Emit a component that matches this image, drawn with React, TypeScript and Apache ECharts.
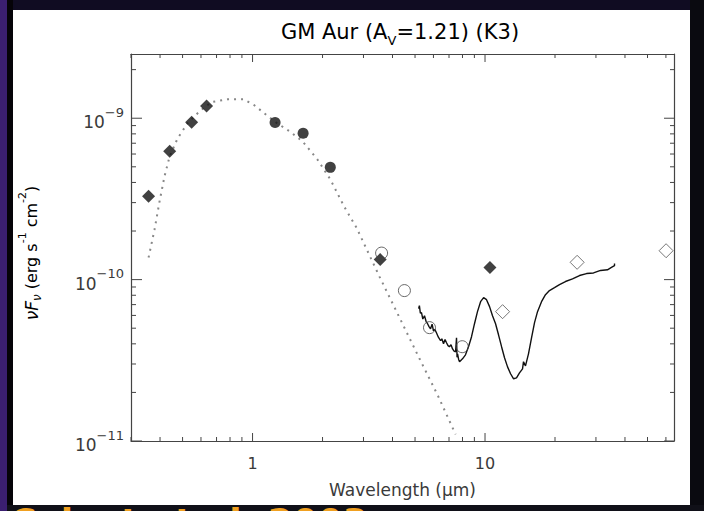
import React, { useEffect, useRef } from 'react';
import * as echarts from 'echarts';

// Photometry (wavelength in micron, nuFnu in erg s^-1 cm^-2)
const opticalDiamondsX = [0.357, 0.44, 0.547, 0.634];
const opticalDiamondsY = [3.28e-10, 6.24e-10, 9.45e-10, 1.19e-9];
const nirCirclesX = [1.25, 1.65, 2.16];
const nirCirclesY = [9.4e-10, 8.07e-10, 4.96e-10];
const midDiamondsX = [3.54, 10.5];
const midDiamondsY = [1.33e-10, 1.19e-10];
const iracX = [3.59, 4.5, 5.77, 7.98];
const iracY = [1.46e-10, 8.55e-11, 5.04e-11, 3.84e-11];
const irasX = [11.9, 24.9, 60.1];
const irasY = [6.33e-11, 1.28e-10, 1.51e-10];

// Stellar photosphere (dotted)
const photoX = [0.357, 0.379, 0.398, 0.418, 0.44, 0.476, 0.525, 0.592, 0.666, 0.781, 0.915, 1.02, 1.126, 1.256, 1.443, 1.64, 1.9, 2.16, 2.49, 2.8, 3.52, 4.29, 5.23, 6.25, 7.47];
const photoY = [1.37e-10, 2.05e-10, 3.05e-10, 4.36e-10, 5.81e-10, 7.5e-10, 9.3e-10, 1.105e-9, 1.26e-9, 1.31e-9, 1.31e-9, 1.2e-9, 1.07e-9, 9.45e-10, 8.3e-10, 7.2e-10, 5.56e-10, 4.18e-10, 2.8e-10, 2.1e-10, 1.04e-10, 5.8e-11, 3.23e-11, 1.93e-11, 1.1e-11];

// IRS spectrum (solid)
const irsX = [5.18, 5.22, 5.27, 5.33, 5.4, 5.49, 5.58, 5.66, 5.75, 5.83, 5.92, 6.0, 6.09, 6.18, 6.3, 6.44, 6.52, 6.63, 6.73, 6.83, 6.93, 7.03, 7.14, 7.25, 7.36, 7.47, 7.54, 7.58, 7.62, 7.7, 7.77, 8.0, 8.24, 8.49, 8.75, 9.01, 9.28, 9.57, 9.86, 10.15, 10.46, 10.77, 11.1, 11.43, 11.78, 12.13, 12.5, 12.88, 13.27, 13.66, 14.07, 14.5, 14.64, 14.93, 15.38, 15.85, 16.33, 16.82, 17.5, 18.2, 18.93, 19.9, 20.91, 22.18, 23.79, 25.49, 27.33, 29.29, 31.39, 33.63, 34.98, 36.06, 36.06];
const irsY = [6.61e-11, 6.9e-11, 6.2e-11, 6.24e-11, 5.7e-11, 5.97e-11, 5.5e-11, 5.33e-11, 5.1e-11, 4.96e-11, 5.3e-11, 4.82e-11, 4.9e-11, 4.69e-11, 4.4e-11, 4.18e-11, 4.3e-11, 4.0e-11, 4.25e-11, 4.06e-11, 3.9e-11, 3.84e-11, 3.95e-11, 3.72e-11, 3.6e-11, 3.57e-11, 4.36e-11, 3.3e-11, 3.47e-11, 3.2e-11, 3.1e-11, 3.23e-11, 3.42e-11, 3.84e-11, 4.43e-11, 5.33e-11, 6.33e-11, 7.3e-11, 7.73e-11, 7.51e-11, 6.8e-11, 5.97e-11, 5.33e-11, 4.55e-11, 3.84e-11, 3.28e-11, 2.88e-11, 2.61e-11, 2.43e-11, 2.46e-11, 2.64e-11, 2.8e-11, 3.1e-11, 2.92e-11, 3.47e-11, 4.36e-11, 5.41e-11, 6.33e-11, 7.3e-11, 8.07e-11, 8.55e-11, 8.91e-11, 9.31e-11, 9.73e-11, 1.01e-10, 1.06e-10, 1.09e-10, 1.1e-10, 1.14e-10, 1.15e-10, 1.19e-10, 1.22e-10, 1.26e-10];

// Axes
const xRange = [0.3, 65];
const yRange = [1e-11, 2.5e-9];
const xTicks = [0.3, 0.4, 0.5, 0.6, 0.7, 0.8, 0.9, 1, 2, 3, 4, 5, 6, 7, 8, 9, 10, 20, 30, 40, 50, 60];
const yTicks = [1e-11, 2e-11, 3e-11, 4e-11, 5e-11, 6e-11, 7e-11, 8e-11, 9e-11, 1e-10, 2e-10, 3e-10, 4e-10, 5e-10, 6e-10, 7e-10, 8e-10, 9e-10, 1e-9, 2e-9];

const FONT = 'DejaVu Sans';
const TXT = '#3a3a3a';
const AX = '#444';

const isDecade = (v: number) => {
  const l = Math.log10(v);
  return Math.abs(l - Math.round(l)) < 1e-6;
};
const zip = (xs: number[], ys: number[]) => xs.map((x, i) => [x, ys[i]]);

export default function App() {
  const ref = useRef<HTMLDivElement>(null);
  useEffect(() => {
    if (!ref.current) return;
    const chart = echarts.init(ref.current, undefined, { renderer: 'svg' });
    const tickStyle = { stroke: AX, lineWidth: 1 };
    const option: any = {
      animation: false,
      backgroundColor: '#ffffff',
      grid: { left: 131, right: 30, top: 54, bottom: 70, containLabel: false },
      xAxis: [
        {
          type: 'log', logBase: 10, min: xRange[0], max: xRange[1], position: 'bottom',
          axisLine: { show: true, lineStyle: { color: AX, width: 1.2 } },
          axisTick: { show: false }, splitLine: { show: false },
          axisLabel: {
            margin: 14, color: TXT, fontFamily: FONT, fontSize: 16, showMinLabel: false, showMaxLabel: false,
            formatter: (v: number) => (isDecade(v) ? String(Math.round(v)) : ''),
          },
          name: 'Wavelength (μm)', nameLocation: 'middle', nameGap: 40,
          nameTextStyle: { color: TXT, fontFamily: FONT, fontSize: 17 },
        },
        {
          type: 'log', logBase: 10, min: xRange[0], max: xRange[1], position: 'top',
          axisLine: { show: true, lineStyle: { color: AX, width: 1.2 } },
          axisTick: { show: false }, splitLine: { show: false }, axisLabel: { show: false },
        },
      ],
      yAxis: [
        {
          type: 'log', logBase: 10, min: yRange[0], max: yRange[1], position: 'left',
          axisLine: { show: true, lineStyle: { color: AX, width: 1.2 } },
          axisTick: { show: false }, splitLine: { show: false },
          axisLabel: {
            margin: 7, color: TXT, fontFamily: FONT,
            formatter: (v: number) => {
              if (!isDecade(v)) return '';
              const e = Math.round(Math.log10(v));
              return `{b|10}{s|−${Math.abs(e)}}`;
            },
            rich: {
              b: { fontSize: 17, fontFamily: FONT, color: TXT, padding: [8, 0, 0, 0] },
              s: { fontSize: 13, fontFamily: FONT, color: TXT, verticalAlign: 'top' },
            },
          },
        },
        {
          type: 'log', logBase: 10, min: yRange[0], max: yRange[1], position: 'right',
          axisLine: { show: true, lineStyle: { color: AX, width: 1.2 } },
          axisTick: { show: false }, splitLine: { show: false }, axisLabel: { show: false },
        },
      ],
      series: [
        {
          type: 'custom', name: 'xticks', silent: true, xAxisIndex: 0, yAxisIndex: 0,
          data: xTicks.map((v) => [v, yRange[0]]),
          renderItem: (_p: any, api: any) => {
            const v = api.value(0);
            const len = isDecade(v) ? 8 : 4;
            const b = api.coord([v, yRange[0]]);
            const t = api.coord([v, yRange[1]]);
            return {
              type: 'group',
              children: [
                { type: 'line', shape: { x1: b[0], y1: b[1], x2: b[0], y2: b[1] - len }, style: tickStyle },
                { type: 'line', shape: { x1: t[0], y1: t[1], x2: t[0], y2: t[1] + len }, style: tickStyle },
              ],
            };
          },
        },
        {
          type: 'custom', name: 'yticks', silent: true, xAxisIndex: 0, yAxisIndex: 0,
          data: yTicks.map((v) => [xRange[0], v]),
          renderItem: (_p: any, api: any) => {
            const v = api.value(1);
            const major = isDecade(v);
            const l = api.coord([xRange[0], v]);
            const r = api.coord([xRange[1], v]);
            return {
              type: 'group',
              children: [
                { type: 'line', shape: { x1: l[0], y1: l[1], x2: l[0] + (major ? 11 : 5), y2: l[1] }, style: tickStyle },
                { type: 'line', shape: { x1: r[0], y1: r[1], x2: r[0] - (major ? 10 : 4), y2: r[1] }, style: tickStyle },
              ],
            };
          },
        },
        {
          type: 'line', name: 'photosphere', data: zip(photoX, photoY), showSymbol: false, silent: true,
          lineStyle: { color: '#888', width: 2, type: [2, 5] }, z: 3,
        },
        {
          type: 'line', name: 'IRS', data: zip(irsX, irsY), showSymbol: false, silent: true,
          lineStyle: { color: '#111', width: 1.4 }, z: 4,
        },
        {
          type: 'scatter', name: 'optical', data: zip(opticalDiamondsX, opticalDiamondsY), symbol: 'diamond', symbolSize: 13,
          itemStyle: { color: '#111' }, z: 5,
        },
        {
          type: 'scatter', name: 'nir', data: zip(nirCirclesX, nirCirclesY), symbol: 'circle', symbolSize: 11,
          itemStyle: { color: '#111' }, z: 5,
        },
        {
          type: 'scatter', name: 'mid', data: zip(midDiamondsX, midDiamondsY), symbol: 'diamond', symbolSize: 13,
          itemStyle: { color: '#111' }, z: 5,
        },
        {
          type: 'scatter', name: 'irac', data: zip(iracX, iracY), symbol: 'circle', symbolSize: 12,
          itemStyle: { color: 'rgba(0,0,0,0)', borderColor: '#444', borderWidth: 1 }, z: 6,
        },
        {
          type: 'scatter', name: 'iras', data: zip(irasX, irasY), symbol: 'diamond', symbolSize: 14,
          itemStyle: { color: 'rgba(0,0,0,0)', borderColor: '#555', borderWidth: 1 }, z: 6,
        },
      ],
      graphic: [
        {
          type: 'text', x: 400, y: 34, z: 10,
          style: {
            text: '{a|GM Aur (A}{b|V}{a|=1.21) (K3)}', align: 'center', verticalAlign: 'middle',
            rich: {
              a: { fontSize: 21, fontFamily: FONT, color: TXT, padding: [0, 0, 5, 0] },
              b: { fontSize: 13, fontFamily: FONT, color: TXT, verticalAlign: 'bottom' },
            },
          },
        },
        {
          type: 'text', x: 30, y: 253, rotation: Math.PI / 2, z: 10,
          style: {
            text: '{i|νF}{sb|ν}{a| (erg s}{sp|-1}{a| cm}{sp|-2}{a|)}', align: 'center', verticalAlign: 'middle',
            rich: {
              i: { fontSize: 17, fontFamily: FONT, fontStyle: 'italic', color: TXT, padding: [6, 0, 3, 0] },
              sb: { fontSize: 12, fontFamily: FONT, fontStyle: 'italic', color: TXT, verticalAlign: 'bottom' },
              a: { fontSize: 16, fontFamily: FONT, color: TXT, padding: [6, 0, 3, 0] },
              sp: { fontSize: 11, fontFamily: FONT, color: TXT, verticalAlign: 'top' },
            },
          },
        },
        // dark frame around the slide
        { type: 'rect', z: 20, shape: { x: 0, y: 0, width: 704, height: 10 }, style: { fill: '#100c22' } },
        { type: 'rect', z: 20, shape: { x: 0, y: 0, width: 13, height: 511 }, style: { fill: '#050308' } },
        { type: 'rect', z: 21, shape: { x: 0, y: 0, width: 7, height: 511 }, style: { fill: '#3b1f70' } },
        { type: 'rect', z: 20, shape: { x: 690, y: 0, width: 14, height: 511 }, style: { fill: '#0a0a10' } },
        { type: 'rect', z: 20, shape: { x: 0, y: 505, width: 704, height: 6 }, style: { fill: '#101018' } },
        {
          type: 'text', x: 10, y: 503, z: 22,
          style: { text: 'Calvet et al. 2003', fontSize: 36, fontWeight: 'bold', fontFamily: 'DejaVu Sans', fill: '#f0a020', verticalAlign: 'top', align: 'left' },
        },
      ],
    };
    chart.setOption(option);
    return () => chart.dispose();
  }, []);
  return <div ref={ref} style={{ position: 'fixed', left: 0, top: 0, width: 704, height: 511 }} />;
}
